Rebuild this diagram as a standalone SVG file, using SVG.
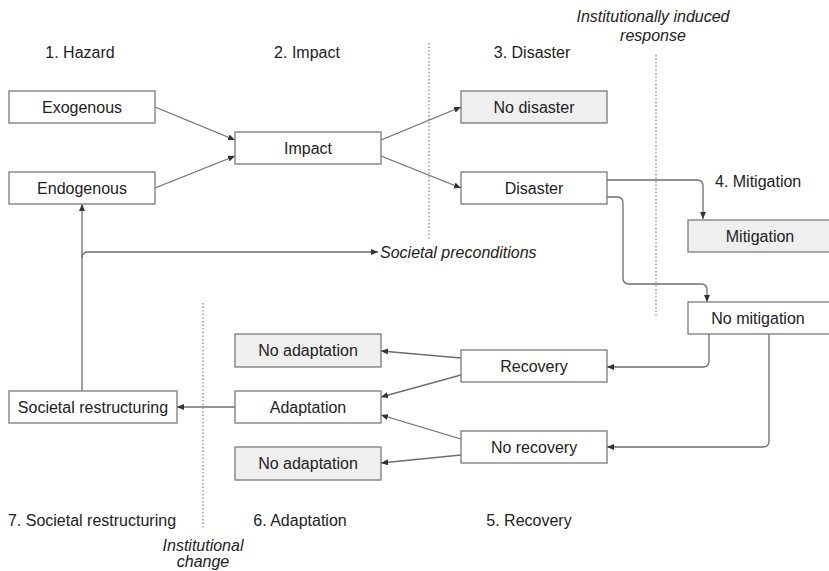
<svg xmlns="http://www.w3.org/2000/svg" width="829" height="571" viewBox="0 0 829 571">
<style>
  .box { stroke: #7a7a7a; stroke-width: 1.3; fill: #ffffff; }
  .gray { fill: #efefef; }
  .lbl { font-family: "Liberation Sans", Arial, sans-serif; font-size: 16px; fill: #222; text-anchor: middle; }
  .it { font-style: italic; }
  .conn { fill: none; stroke: #6e6e6e; stroke-width: 1.3; marker-end: url(#arr); }
  .dot { stroke: #777; stroke-width: 1.2; stroke-dasharray: 1.4 2.2; fill: none; }
</style>
<defs>
  <marker id="arr" markerUnits="userSpaceOnUse" markerWidth="10" markerHeight="10" refX="7" refY="3" orient="auto">
    <path d="M0,0 L7,3 L0,6 z" fill="#333"/>
  </marker>
</defs>
<rect width="829" height="571" fill="#ffffff"/>

<g id="stage-labels">
  <text class="lbl" x="80" y="58">1. Hazard</text>
  <text class="lbl" x="307" y="58">2. Impact</text>
  <text class="lbl" x="532" y="58">3. Disaster</text>
  <text class="lbl" x="715" y="187" style="text-anchor:start">4. Mitigation</text>
  <text class="lbl" x="529" y="526">5. Recovery</text>
  <text class="lbl" x="300" y="526">6. Adaptation</text>
  <text class="lbl" x="92" y="526">7. Societal restructuring</text>
  <text class="lbl it" x="653" y="22">Institutionally induced</text>
  <text class="lbl it" x="653" y="41">response</text>
  <text class="lbl it" x="203" y="551">Institutional</text>
  <text class="lbl it" x="203" y="567">change</text>
  <text class="lbl it" x="380" y="258" style="text-anchor:start">Societal preconditions</text>
</g>

<g id="dividers">
  <line class="dot" x1="429" y1="43" x2="429" y2="240"/>
  <line class="dot" x1="656" y1="55" x2="656" y2="318"/>
  <line class="dot" x1="203" y1="303" x2="203" y2="528"/>
</g>

<g id="connectors">
  <path class="conn" d="M155,107 L235,140"/>
  <path class="conn" d="M155,188 L235,156"/>
  <path class="conn" d="M381,140 L461,107"/>
  <path class="conn" d="M381,156 L461,188"/>
  <path class="conn" d="M607,180 H697 Q703,180 703,186 V219"/>
  <path class="conn" d="M607,197 H617 Q623,197 623,203 V278 Q623,284 629,284 H701 Q707,284 707,290 V302"/>
  <path class="conn" d="M709,334 V361 Q709,367 703,367 H607"/>
  <path class="conn" d="M769,334 V441 Q769,447 763,447 H607"/>
  <path class="conn" d="M461,358 L381,351"/>
  <path class="conn" d="M461,375 L381,397"/>
  <path class="conn" d="M461,439 L381,415"/>
  <path class="conn" d="M461,455 L381,463"/>
  <path class="conn" d="M235,407 H177"/>
  <path class="conn" d="M82,391 V204"/>
  <path class="conn" d="M82,258 Q82,252 88,252 H378"/>
</g>

<g id="exogenous">
  <rect class="box" x="9" y="91" width="146" height="32"/>
  <text class="lbl" x="82" y="113">Exogenous</text>
</g>
<g id="endogenous">
  <rect class="box" x="9" y="172" width="146" height="32"/>
  <text class="lbl" x="82" y="194">Endogenous</text>
</g>
<g id="impact">
  <rect class="box" x="235" y="132" width="146" height="32"/>
  <text class="lbl" x="308" y="154">Impact</text>
</g>
<g id="no-disaster">
  <rect class="box gray" x="461" y="91" width="146" height="32"/>
  <text class="lbl" x="534" y="113">No disaster</text>
</g>
<g id="disaster">
  <rect class="box" x="461" y="172" width="146" height="32"/>
  <text class="lbl" x="534" y="194">Disaster</text>
</g>
<g id="mitigation">
  <rect class="box gray" x="688" y="220" width="146" height="32"/>
  <text class="lbl" x="760" y="242">Mitigation</text>
</g>
<g id="no-mitigation">
  <rect class="box" x="688" y="302" width="146" height="32"/>
  <text class="lbl" x="758" y="324">No mitigation</text>
</g>
<g id="recovery">
  <rect class="box" x="461" y="350" width="146" height="32"/>
  <text class="lbl" x="534" y="372">Recovery</text>
</g>
<g id="no-recovery">
  <rect class="box" x="461" y="431" width="146" height="32"/>
  <text class="lbl" x="534" y="453">No recovery</text>
</g>
<g id="no-adaptation-1">
  <rect class="box gray" x="235" y="334" width="146" height="33"/>
  <text class="lbl" x="308" y="356">No adaptation</text>
</g>
<g id="adaptation">
  <rect class="box" x="235" y="391" width="146" height="32"/>
  <text class="lbl" x="308" y="413">Adaptation</text>
</g>
<g id="no-adaptation-2">
  <rect class="box gray" x="235" y="447" width="146" height="33"/>
  <text class="lbl" x="308" y="469">No adaptation</text>
</g>
<g id="societal-restructuring">
  <rect class="box" x="9" y="391" width="168" height="32"/>
  <text class="lbl" x="93" y="413">Societal restructuring</text>
</g>
</svg>
